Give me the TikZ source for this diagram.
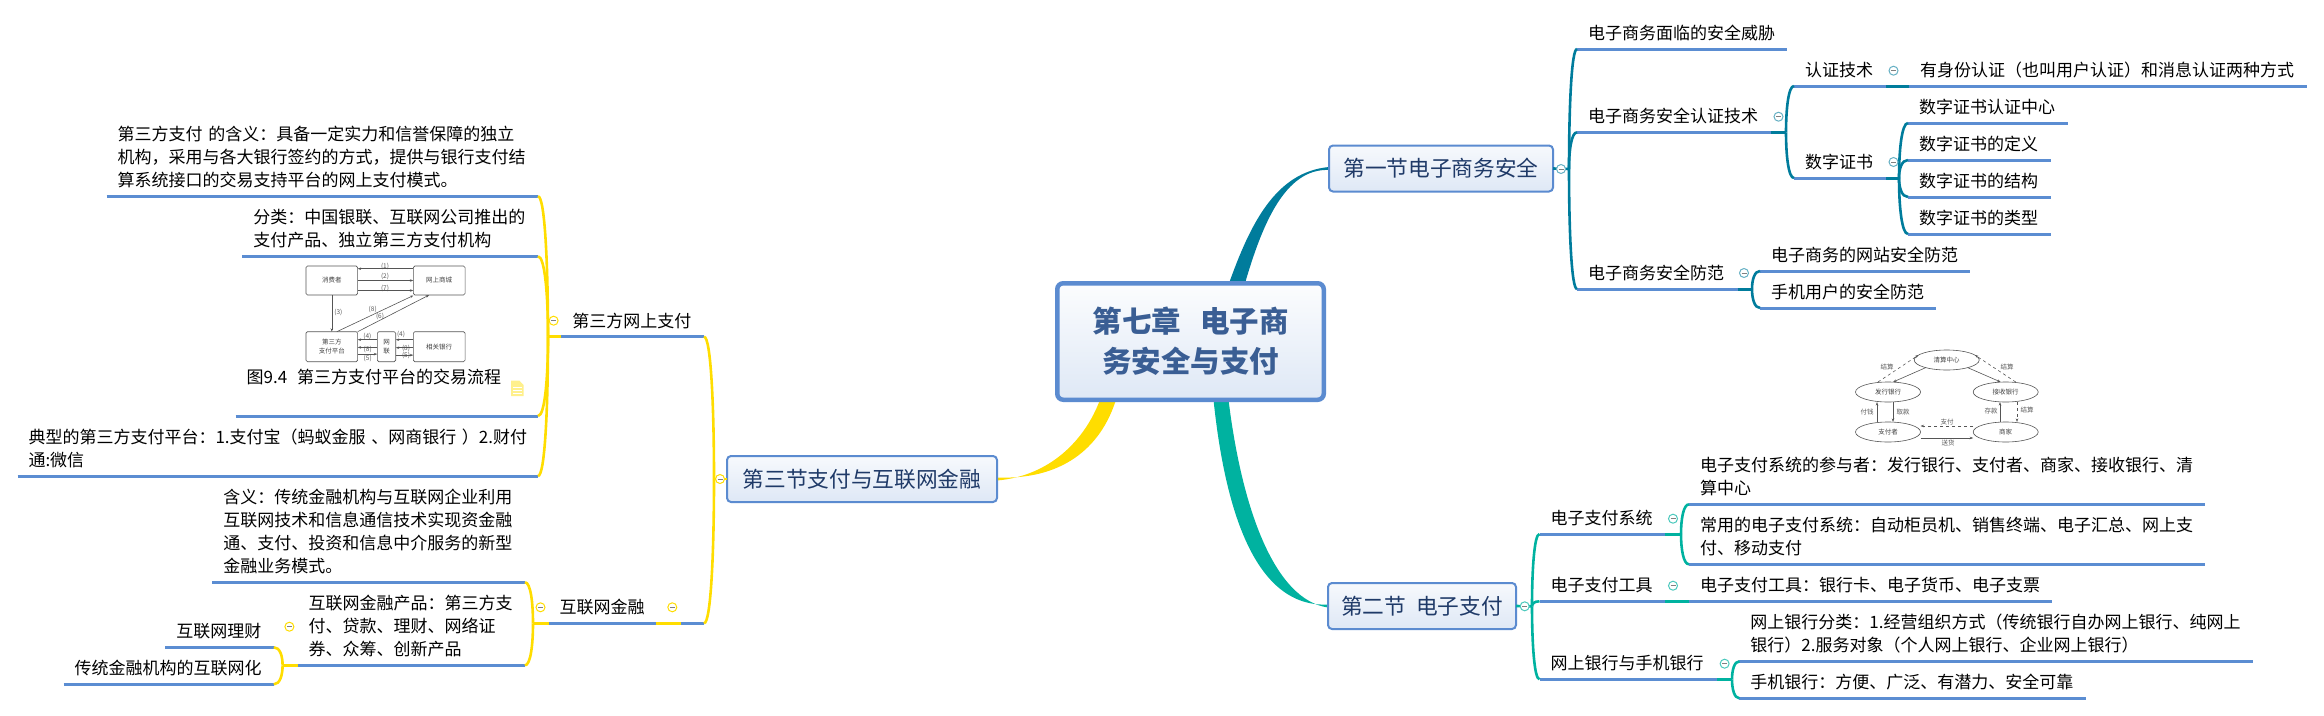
\documentclass[tikz,border=0pt]{standalone}
\usepackage{fontspec}
\setmainfont{Noto Sans CJK SC}
\usetikzlibrary{calc,shapes.geometric,arrows.meta,backgrounds}
\definecolor{ublue}{HTML}{5B8DD2}
\definecolor{cteal}{HTML}{007C9C}
\definecolor{cgreen}{HTML}{00B2A0}
\definecolor{cyellow}{HTML}{FFDD00}
\definecolor{edge}{HTML}{5B8BD0}
\definecolor{roottext}{HTML}{3A5E94}
\definecolor{sectext}{HTML}{1F3A68}
\definecolor{figline}{HTML}{555555}
\tikzset{
  x=1pt,y=-1pt,
  rootbox/.style={draw=edge,line width=4.5pt,rounded corners=6pt,top color=white!60!edge!5,bottom color=edge!20,
    minimum width=266.5pt,minimum height=116.5pt,outer sep=0pt,align=center,text=roottext,
    font=\fontsize{29.5}{40}\selectfont\bfseries},
  secbox/.style={draw=edge,line width=2pt,rounded corners=4pt,top color=edge!5,bottom color=edge!20,
    outer sep=0pt,minimum height=46pt,text=sectext,font=\fontsize{21.7}{26}\selectfont},
  leafnode/.style={anchor=south west,inner xsep=11pt,inner ysep=0pt,outer sep=0pt,align=left,
    font=\fontsize{17}{23}\selectfont},
  uline/.style={draw=ublue,line width=3pt},
  stub/.style={line width=3pt},
  twigline/.style={line width=2.6pt},
  foldmark/.style={circle,draw=#1,fill=white,line width=1pt,minimum size=9pt,inner sep=0pt,
    path picture={\draw[line width=.8pt,gray] ([xshift=-2.5pt]path picture bounding box.center) -- ([xshift=2.5pt]path picture bounding box.center);}},
  figbox/.style={draw=figline,line width=.6pt,rounded corners=1.5pt,outer sep=0pt,inner sep=0pt,align=center,
    text=black!75,font=\fontsize{6.5}{8.5}\selectfont},
  figell/.style={ellipse,draw=figline,line width=.6pt,outer sep=0pt,inner sep=0pt,minimum width=65pt,minimum height=20pt,
    text=black!75,font=\fontsize{6.5}{8.5}\selectfont},
  figlab/.style={inner sep=0pt,text=black!65,font=\fontsize{6.5}{8}\selectfont},
  figarrow/.style={draw=figline,line width=.6pt,-{Stealth[length=3.5pt,width=2.5pt]}},
}
\newcommand{\lineend}{\rule[-9.5pt]{0pt}{1pt}}
\newcommand{\leaf}[5]{%
  \node[leafnode,minimum width=#3pt-#2pt,text width=#3pt-#2pt-22pt] (#1) at (#2,#4) {#5\lineend};
  \draw[uline] (#1.south west) -- (#1.south east);}
\newcommand{\twig}[3]{\draw[twigline,#1] (#2) .. controls ($(#2)!0.5!(#2|-#3)$) and ($(#2|-#3)!0.3!(#3)$) .. (#3);}
\newcommand{\fold}[3]{\node[foldmark=#1] at (#2,#3) {};}
\begin{document}
\begin{tikzpicture}
\useasboundingbox (0,0) rectangle (2324,715);
% central and section nodes
\node[rootbox] (root) at (1190.5,341.5) {第七章\hspace{19pt}电子商\\务安全与支付};
\node[secbox,minimum width=224pt] (s1) at (1441,168.5) {第一节电子商务安全};
\node[secbox,minimum width=188pt] (s2) at (1422,606) {第二节\hspace{10pt}电子支付};
\node[secbox,minimum width=270pt] (s3) at (862,479) {第三节支付与互联网金融};
\begin{pgfonlayer}{background}
\fill[cteal] ([xshift=38.5pt]root.north) .. controls (1250,225) and (1275,172) .. ([yshift=1.5pt]s1.west) -- ([yshift=-1.5pt]s1.west) .. controls (1285,168) and (1262,225) .. ([xshift=54.5pt]root.north) -- cycle;
\fill[cgreen] ([xshift=23pt]root.south) .. controls (1225,510) and (1255,608) .. ([yshift=1.5pt]s2.west) -- ([yshift=-1.5pt]s2.west) .. controls (1275,600) and (1242,510) .. ([xshift=38pt]root.south) -- cycle;
\fill[cyellow] ([xshift=-90.5pt]root.south) .. controls (1085,440) and (1050,476) .. ([yshift=-1.5pt]s3.east) -- ([yshift=1.5pt]s3.east) .. controls (1060,480) and (1100,450) .. ([xshift=-74.5pt]root.south) -- cycle;
\end{pgfonlayer}
% section 1
\leaf{a1}{1577}{1787}{49}{电子商务面临的安全威胁}
\leaf{a2}{1577}{1771}{132.3}{电子商务安全认证技术}
\leaf{a3}{1577}{1737.6}{289}{电子商务安全防范}
\leaf{b1}{1794}{1886}{86}{认证技术}
\leaf{b2}{1794}{1886}{178}{数字证书}
\leaf{c1}{1909}{2307}{86}{有身份认证（也叫用户认证）和消息认证两种方式}
\leaf{d1}{1908}{2068}{123}{数字证书认证中心}
\leaf{d2}{1908}{2051}{160}{数字证书的定义}
\leaf{d3}{1908}{2051}{197}{数字证书的结构}
\leaf{d4}{1908}{2051}{234}{数字证书的类型}
\leaf{e1}{1760}{1970}{271}{电子商务的网站安全防范}
\leaf{e2}{1760}{1936}{308}{手机用户的安全防范}
\coordinate (j1) at (1569,169);
\coordinate (j2) at (1786,132.3);
\coordinate (j3) at (1899,178);
\coordinate (j4) at (1752,289);
\draw[twigline,cteal] (s1.east) -- (j1);
\twig{cteal}{j1}{a1.south west}
\twig{cteal}{j1}{a2.south west}
\twig{cteal}{j1}{a3.south west}
\draw[stub,cteal] (a2.south east) -- (j2);
\twig{cteal}{j2}{b1.south west}
\twig{cteal}{j2}{b2.south west}
\draw[stub,cteal] (b1.south east) -- (c1.south west);
\draw[stub,cteal] (b2.south east) -- (j3);
\twig{cteal}{j3}{d1.south west}
\twig{cteal}{j3}{d2.south west}
\twig{cteal}{j3}{d3.south west}
\twig{cteal}{j3}{d4.south west}
\draw[stub,cteal] (a3.south east) -- (j4);
\twig{cteal}{j4}{e1.south west}
\twig{cteal}{j4}{e2.south west}
\fold{cteal!60}{1561}{169}
\fold{cteal!60}{1778.5}{116.7}
\fold{cteal!60}{1893.5}{70.7}
\fold{cteal!60}{1893.5}{162}
\fold{cteal!60}{1744}{273}
% section 2
\leaf{f1}{1539.5}{1665}{534}{电子支付系统}
\leaf{f2}{1539.5}{1665}{601.3}{电子支付工具}
\leaf{f3}{1539.5}{1717}{679.3}{网上银行与手机银行}
\leaf{g1}{1689}{2205}{504.3}{电子支付系统的参与者：发行银行、支付者、商家、接收银行、清\\算中心}
\leaf{g2}{1689}{2205}{564.3}{常用的电子支付系统：自动柜员机、销售终端、电子汇总、网上支\\付、移动支付}
\leaf{g3}{1689}{2052}{601.3}{电子支付工具：银行卡、电子货币、电子支票}
\leaf{h1}{1739.4}{2253}{661.3}{网上银行分类：1.经营组织方式（传统银行自办网上银行、纯网上\\银行）2.服务对象（个人网上银行、企业网上银行）}
\leaf{h2}{1739.4}{2086}{698.3}{手机银行：方便、广泛、有潜力、安全可靠}
\coordinate (k1) at (1532,606.3);
\coordinate (k2) at (1681,534);
\coordinate (k3) at (1732,679.3);
\draw[twigline,cgreen] (s2.east) -- (k1);
\twig{cgreen}{k1}{f1.south west}
\twig{cgreen}{k1}{f2.south west}
\twig{cgreen}{k1}{f3.south west}
\draw[stub,cgreen] (f1.south east) -- (k2);
\twig{cgreen}{k2}{g1.south west}
\twig{cgreen}{k2}{g2.south west}
\draw[stub,cgreen] (f2.south east) -- (g3.south west);
\draw[stub,cgreen] (f3.south east) -- (k3);
\twig{cgreen}{k3}{h1.south west}
\twig{cgreen}{k3}{h2.south west}
\fold{cgreen!70}{1524.7}{606.3}
\fold{cgreen!70}{1673}{518.7}
\fold{cgreen!70}{1673}{585.7}
\fold{cgreen!70}{1724.6}{663.7}
% section 3
\leaf{m1}{561.3}{704}{336.7}{第三方网上支付}
\leaf{m2}{548.7}{704}{623.3}{互联网金融}
\leaf{n1}{106.6}{538}{196.3}{第三方支付 的含义：具备一定实力和信誉保障的独立\\机构，采用与各大银行签约的方式，提供与银行支付结\\算系统接口的交易支持平台的网上支付模式。}
\leaf{n2}{242.4}{538}{256.3}{分类：中国银联、互联网公司推出的\\支付产品、独立第三方支付机构}
\leaf{n3}{235.6}{538}{416}{图9.4\hspace{10pt}第三方支付平台的交易流程\\}
\leaf{n4}{17.5}{538}{476}{\mbox{典型的第三方支付平台：1.支付宝（蚂蚁金服 、网商银行 ）2.财付}\\通:微信}
\leaf{p1}{212.3}{525}{582.3}{含义：传统金融机构与互联网企业利用\\互联网技术和信息通信技术实现资金融\\通、支付、投资和信息中介服务的新型\\金融业务模式。}
\leaf{p2}{297.6}{525}{665.3}{互联网金融产品：第三方支\\付、贷款、理财、网络证\\券、众筹、创新产品}
\leaf{q1}{165.3}{273.9}{647.3}{互联网理财}
\leaf{q2}{63.5}{273.9}{684.3}{传统金融机构的互联网化}
\coordinate (r1) at (714,479);
\coordinate (r2) at (548,336.7);
\coordinate (r3) at (533,623.3);
\coordinate (r4) at (282.6,665.3);
\draw[twigline,cyellow] (s3.west) -- (r1);
\twig{cyellow}{r1}{m1.south east}
\twig{cyellow}{r1}{m2.south east}
\draw[stub,cyellow] (m1.south west) -- (r2);
\twig{cyellow}{r2}{n1.south east}
\twig{cyellow}{r2}{n2.south east}
\twig{cyellow}{r2}{n3.south east}
\twig{cyellow}{r2}{n4.south east}
\draw[stub,cyellow] (m2.south west) -- (r3);
\twig{cyellow}{r3}{p1.south east}
\twig{cyellow}{r3}{p2.south east}
\draw[stub,cyellow] (p2.south west) -- (r4);
\twig{cyellow}{r4}{q1.south east}
\twig{cyellow}{r4}{q2.south east}
\draw[stub,cyellow] ([xshift=-48pt]m2.south east) -- ([xshift=-23.4pt]m2.south east);
\fold{cyellow}{720}{479}
\fold{cyellow}{553.6}{320.7}
\fold{cyellow}{672.3}{607.3}
\fold{cyellow}{540.5}{607.3}
\fold{cyellow}{289.4}{626.7}
% note icon
\fill[cyellow!45] (511,380.7) -- (519.5,380.7) -- (523.5,385) -- (523.5,396) -- (511,396) -- cycle;
\draw[white,line width=.8pt] (513,387) -- (521.5,387) (513,390) -- (521.5,390) (513,393) -- (521.5,393);
% third-party payment figure
\node[figbox,minimum width=51.7pt,minimum height=29pt] (u1) at (331.8,280.5) {消费者};
\node[figbox,minimum width=51.7pt,minimum height=29pt] (u2) at (439.2,280.5) {网上商城};
\node[figbox,minimum width=51.7pt,minimum height=30pt] (u3) at (331.8,346.7) {第三方\\支付平台};
\node[figbox,minimum width=18.4pt,minimum height=30pt] (u4) at (386.5,346.7) {网\\联};
\node[figbox,minimum width=51.7pt,minimum height=30pt] (u5) at (439.2,346.7) {相关银行};
\draw[figarrow] ([yshift=-10pt]u1.east) -- ([yshift=-10pt]u2.west);
\draw[figarrow] (u1.east) -- (u2.west);
\draw[figarrow] ([yshift=11.8pt]u2.west) -- ([yshift=11.8pt]u1.east);
\draw[figarrow] (u1.south) -- (u3.north);
\draw[figarrow] ([xshift=5pt]u3.north) -- ([xshift=-25.8pt,yshift=-.5pt]u2.south);
\draw[figarrow] (u3.north east) -- ([xshift=-10pt]u2.south);
\draw[figarrow] ([yshift=-7.4pt]u3.east) -- ([yshift=-7.4pt]u4.west);
\draw[figarrow] ([yshift=-.7pt]u4.west) -- ([yshift=-.7pt]u3.east);
\draw[figarrow] ([yshift=7pt]u4.west) -- ([yshift=7pt]u3.east);
\draw[figarrow] ([yshift=-8.4pt]u4.east) -- ([yshift=-8.4pt]u5.west);
\draw[figarrow] ([yshift=-1pt]u5.west) -- ([yshift=-1pt]u4.east);
\draw[figarrow] ([yshift=7pt]u5.west) -- ([yshift=7pt]u4.east);
\node[figlab] (v1) at (385,266) {(1)};
\node[figlab] (v2) at (385,276.7) {(2)};
\node[figlab] (v3) at (385,288.3) {(7)};
\node[figlab] (v4) at (338.3,312.3) {(3)};
\node[figlab] (v5) at (372.7,309) {(8)};
\node[figlab] (v6) at (380,316.7) {(6)};
\node[figlab] (v7) at (367.3,336.3) {(4)};
\node[figlab] (v8) at (367.7,349.3) {(8)};
\node[figlab] (v9) at (367.7,358) {(5)};
\node[figlab] (v10) at (401,334.7) {(4)};
\node[figlab] (v11) at (406,348) {(8)};
\node[figlab] (v12) at (406,355.7) {(5)};
% payment-system figure
\node[figell] (w1) at (1946.7,360) {清算中心};
\node[figell] (w2) at (1888,392) {发行银行};
\node[figell] (w3) at (2005.7,392) {接收银行};
\node[figell] (w4) at (1888,432) {支付者};
\node[figell] (w5) at (2005.7,432) {商家};
\draw[figarrow,dashed] ([xshift=-10pt]w2.north) -- (w1.170);
\draw[figarrow] (w1.200) -- ([xshift=5pt]w2.north);
\draw[figarrow] (w1.340) -- ([xshift=-5pt]w3.north);
\draw[figarrow,dashed] ([xshift=10pt]w3.north) -- (w1.10);
\draw[figarrow] ([xshift=-11pt]w4.north) -- ([xshift=-11pt]w2.south);
\draw[figarrow] ([xshift=5pt]w2.south) -- ([xshift=5pt]w4.north);
\draw[figarrow] ([xshift=-5.7pt]w5.north) -- ([xshift=-5.7pt]w3.south);
\draw[figarrow,dashed] ([xshift=11.3pt]w3.south) -- ([xshift=11.3pt]w5.north);
\draw[figarrow] ([yshift=-6pt]w4.east) -- ([yshift=-6pt]w5.west);
\draw[figarrow,dashed] ([yshift=6pt]w5.west) -- ([yshift=6pt]w4.east);
\node[figlab] (x1) at (1887,367) {结算};
\node[figlab] (x2) at (2007,367) {结算};
\node[figlab] (x3) at (1867,412) {付钱};
\node[figlab] (x4) at (1903,412) {取款};
\node[figlab] (x5) at (1991,411) {存款};
\node[figlab] (x6) at (2027,410) {结算};
\node[figlab] (x7) at (1947,422) {支付};
\node[figlab] (x8) at (1948,443) {送货};
\end{tikzpicture}
\end{document}
